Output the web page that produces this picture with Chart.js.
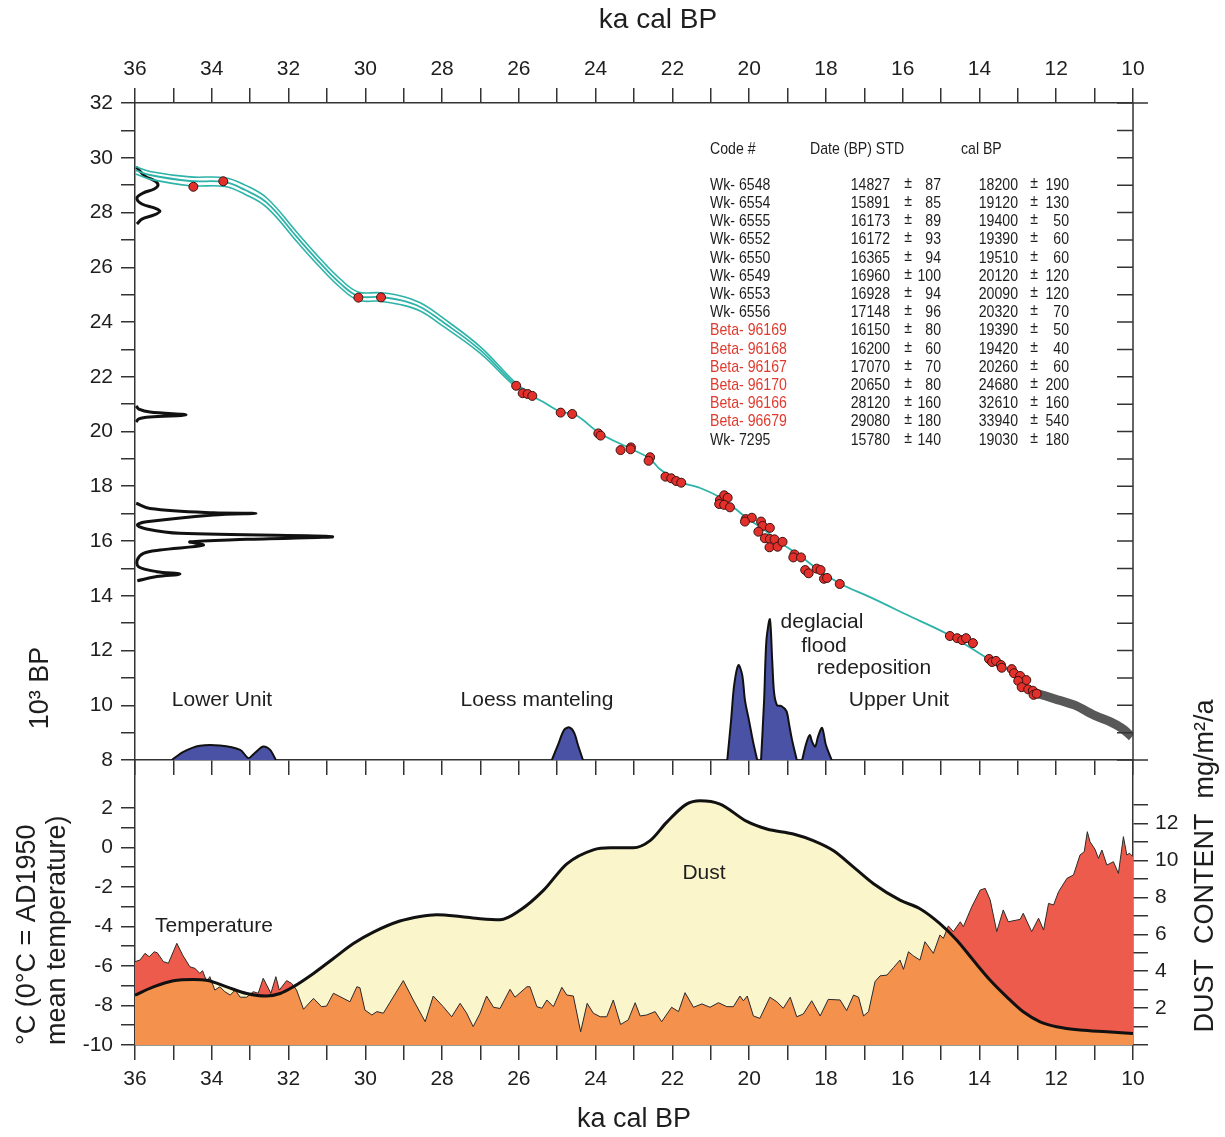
<!DOCTYPE html>
<html>
<head>
<meta charset="utf-8">
<script src="https://cdn.jsdelivr.net/npm/chart.js@4.4.0/dist/chart.umd.min.js"></script>
<style>
  body { margin: 0; background: #fff; }
  #wrap { position: relative; width: 1225px; height: 1137px; }
  canvas { position: absolute; left: 0; top: 0; }
</style>
</head>
<body>
<div id="wrap">
  <canvas id="lowerPanel" width="1225" height="1137"></canvas>
  <canvas id="upperPanel" width="1225" height="1137"></canvas>
</div>
<script>
const FONT = '"Liberation Sans", Arial, sans-serif';
const axisColor = '#333';
const textColor = '#1e1e1e';

// tick labels
const calTickLabels = [36, 34, 32, 30, 28, 26, 24, 22, 20, 18, 16, 14, 12, 10];
const c14TickLabels = [8, 10, 12, 14, 16, 18, 20, 22, 24, 26, 28, 30, 32];
const tempTickLabels = [-10, -8, -6, -4, -2, 0, 2];
const dustTickLabels = [2, 4, 6, 8, 10, 12];

// age model: cal ka BP -> 14C ka BP
const modelKa = [36.00, 35.61, 34.57, 33.66, 33.13, 32.56, 31.78, 31.18, 30.66, 30.19, 29.62, 29.10, 28.57, 28.05, 27.01, 26.10, 25.65, 25.32, 24.91, 24.54, 23.88, 23.10, 22.60, 22.32, 21.80, 21.30, 20.71, 20.05, 19.55, 19.30, 18.67, 18.20, 17.64, 16.85, 15.81, 14.77, 13.72, 13.20, 12.55];
const modelC14 = [29.55, 29.37, 29.15, 29.11, 28.82, 28.35, 27.10, 26.16, 25.42, 24.95, 24.91, 24.80, 24.55, 24.07, 22.98, 21.72, 21.30, 21.04, 20.72, 20.62, 19.93, 19.38, 19.02, 18.62, 18.15, 17.95, 17.55, 16.83, 16.35, 16.05, 15.45, 14.95, 14.45, 13.95, 13.25, 12.55, 11.65, 11.25, 10.50];
const bandKa = [36.00, 35.61, 34.57, 33.66, 33.13, 32.56, 31.78, 31.18, 30.66, 30.19, 29.62, 29.10, 28.57, 28.05, 27.01, 26.10, 25.65];
const bandUpper = [29.68, 29.50, 29.30, 29.27, 29.00, 28.52, 27.27, 26.32, 25.58, 25.10, 25.07, 24.96, 24.70, 24.22, 23.10, 21.80, 21.35];
const bandLower = [29.42, 29.22, 28.98, 28.95, 28.66, 28.18, 26.93, 26.00, 25.27, 24.80, 24.76, 24.64, 24.40, 23.92, 22.86, 21.65, 21.26];
const extrapKa = [12.55, 12.03, 11.46, 11.20, 10.94, 10.60, 10.29, 10.03];
const extrapC14 = [10.45, 10.23, 9.97, 9.77, 9.59, 9.40, 9.16, 8.85];

// dated samples
const datedKa = [34.48, 33.70, 30.18, 29.59, 26.07, 25.90, 25.77, 25.65, 24.91, 24.61, 23.93, 23.87, 23.35, 23.08, 23.09, 22.58, 22.62, 22.18, 22.03, 21.90, 21.77, 20.76, 20.65, 20.56, 20.78, 20.65, 20.50, 20.09, 19.93, 20.11, 19.69, 19.65, 19.76, 19.46, 19.59, 19.46, 19.34, 19.47, 19.26, 19.13, 18.82, 18.85, 18.65, 18.54, 18.45, 18.24, 18.14, 18.05, 17.97, 17.64, 14.77, 14.58, 14.45, 14.35, 14.17, 13.75, 13.67, 13.57, 13.44, 13.42, 13.16, 13.10, 12.94, 12.78, 12.99, 12.90, 12.73, 12.61, 12.59, 12.51];
const datedC14 = [28.94, 29.14, 24.89, 24.90, 21.67, 21.40, 21.37, 21.30, 20.69, 20.64, 19.93, 19.85, 19.32, 19.42, 19.35, 19.06, 18.93, 18.35, 18.29, 18.19, 18.13, 17.50, 17.67, 17.58, 17.35, 17.32, 17.23, 16.80, 16.85, 16.71, 16.71, 16.55, 16.34, 16.48, 16.10, 16.07, 16.06, 15.77, 15.79, 15.97, 15.51, 15.40, 15.40, 14.94, 14.82, 14.99, 14.94, 14.62, 14.65, 14.43, 12.53, 12.45, 12.38, 12.45, 12.27, 11.69, 11.58, 11.62, 11.47, 11.37, 11.32, 11.17, 11.07, 10.92, 10.89, 10.66, 10.58, 10.53, 10.38, 10.42];

// summed 14C probability along the left axis
const probAKa = [35.97, 35.74, 35.48, 35.40, 35.50, 35.79, 35.95, 35.82, 35.48, 35.35, 35.50, 35.82, 35.95];
const probAC14 = [29.66, 29.33, 29.15, 29.00, 28.86, 28.71, 28.53, 28.31, 28.16, 28.05, 27.91, 27.76, 27.58];
const probBKa = [35.97, 35.90, 35.61, 34.67, 35.61, 35.90, 35.97];
const probBC14 = [20.93, 20.82, 20.71, 20.61, 20.53, 20.46, 20.35];
const probCKa = [35.97, 35.61, 33.96, 32.85, 33.96, 35.70, 35.94, 35.70, 34.83, 30.87, 33.09, 34.57, 34.22, 35.35, 35.78, 35.94, 35.91, 35.43, 34.83, 35.43, 35.94];
const probCC14 = [17.38, 17.19, 17.03, 17.01, 16.95, 16.70, 16.58, 16.44, 16.28, 16.16, 16.06, 15.97, 15.85, 15.67, 15.55, 15.31, 15.06, 14.88, 14.79, 14.70, 14.55];

// deposition units (blue)
const lowerUnitKa = [35.04, 34.74, 34.31, 33.79, 33.26, 33.05, 32.92, 32.66, 32.48, 32.33];
const lowerUnitVal = [8.0, 8.30, 8.52, 8.53, 8.37, 8.07, 8.20, 8.49, 8.37, 8.0];
const loessKa = [25.14, 24.98, 24.82, 24.68, 24.56, 24.46, 24.33];
const loessVal = [8.0, 8.55, 9.10, 9.19, 9.00, 8.55, 8.0];
const floodAKa = [20.57, 20.47, 20.39, 20.28, 20.18, 20.11, 20.00, 19.90, 19.79];
const floodAVal = [8.0, 9.46, 10.74, 11.47, 11.10, 10.19, 9.41, 8.68, 8.0];
const floodBKa = [19.69, 19.61, 19.55, 19.46, 19.40, 19.35, 19.27, 19.17, 19.03, 18.96, 18.89, 18.76];
const floodBVal = [8.0, 10.19, 12.38, 13.14, 11.65, 10.45, 9.99, 9.98, 9.79, 9.31, 8.78, 8.0];
const floodCKa = [18.62, 18.51, 18.42, 18.36, 18.28, 18.20, 18.10, 18.00, 17.85];
const floodCVal = [8.0, 8.62, 8.91, 8.66, 8.49, 8.88, 9.17, 8.55, 8.0];

// temperature (deg C) and dust content (mg/m2/a)
const tempKa = [36.00, 35.87, 35.74, 35.63, 35.50, 35.42, 35.26, 35.13, 34.91, 34.76, 34.57, 34.44, 34.31, 34.24, 34.13, 34.05, 33.92, 33.79, 33.66, 33.52, 33.39, 33.26, 33.09, 32.92, 32.79, 32.66, 32.57, 32.46, 32.33, 32.24, 32.05, 31.92, 31.79, 31.61, 31.35, 31.14, 31.01, 30.83, 30.40, 30.22, 30.14, 30.01, 29.83, 29.70, 29.53, 29.01, 28.75, 28.44, 28.23, 27.97, 27.75, 27.53, 27.36, 27.19, 27.01, 26.84, 26.66, 26.49, 26.23, 26.10, 25.79, 25.71, 25.53, 25.40, 25.27, 25.10, 24.88, 24.75, 24.58, 24.39, 24.22, 24.06, 23.88, 23.71, 23.54, 23.35, 23.15, 22.97, 22.84, 22.67, 22.45, 22.28, 22.02, 21.84, 21.67, 21.45, 21.23, 21.02, 20.80, 20.58, 20.41, 20.24, 20.15, 20.05, 19.89, 19.72, 19.46, 19.28, 19.11, 18.93, 18.76, 18.59, 18.37, 18.15, 17.94, 17.63, 17.46, 17.28, 17.15, 17.02, 16.89, 16.72, 16.59, 16.41, 16.24, 16.07, 15.98, 15.85, 15.72, 15.55, 15.42, 15.20, 15.03, 14.94, 14.81, 14.68, 14.50, 14.42, 14.20, 13.98, 13.85, 13.72, 13.55, 13.38, 13.25, 12.94, 12.86, 12.64, 12.46, 12.33, 12.20, 12.07, 11.94, 11.72, 11.55, 11.38, 11.27, 11.19, 11.12, 10.99, 10.90, 10.81, 10.68, 10.51, 10.38, 10.25, 10.16, 10.09, 10.00];
const tempC = [-5.78, -5.70, -5.36, -5.53, -5.28, -5.33, -5.78, -5.86, -4.85, -5.44, -6.04, -6.12, -6.37, -6.24, -6.79, -6.54, -7.22, -7.05, -7.30, -7.47, -7.22, -7.58, -7.58, -7.30, -7.38, -6.62, -6.96, -7.38, -6.54, -7.22, -6.74, -6.88, -7.22, -8.19, -7.64, -8.06, -8.03, -7.38, -7.81, -7.05, -7.10, -8.23, -8.48, -8.31, -8.39, -6.74, -7.72, -8.82, -7.52, -8.06, -8.57, -7.89, -8.39, -9.07, -8.39, -7.52, -8.09, -8.15, -7.18, -7.58, -7.05, -7.05, -8.06, -8.14, -7.72, -8.06, -7.08, -7.47, -7.52, -9.33, -7.89, -8.39, -8.57, -8.57, -7.72, -8.96, -8.73, -7.86, -8.53, -8.48, -8.31, -8.82, -8.09, -8.31, -7.35, -8.09, -7.92, -8.09, -7.86, -8.06, -8.06, -7.52, -7.76, -7.52, -8.53, -8.65, -7.58, -7.81, -8.14, -7.58, -8.57, -8.43, -7.76, -8.53, -7.69, -7.72, -8.26, -7.47, -7.58, -8.53, -8.31, -6.79, -6.50, -6.46, -6.08, -5.70, -6.17, -5.28, -5.49, -5.70, -4.77, -5.36, -4.43, -4.60, -3.97, -4.26, -3.76, -4.01, -3.00, -2.15, -2.07, -2.66, -4.26, -3.16, -3.76, -3.64, -3.33, -4.26, -3.58, -4.18, -2.83, -2.91, -2.24, -1.56, -1.39, -0.38, -0.21, 0.80, 0.29, -0.09, -0.55, -0.13, -0.89, -0.72, -1.31, 0.55, -0.38, -0.29, -0.47];
const dustKa = [36.00, 35.52, 35.00, 34.48, 34.13, 33.61, 33.09, 32.57, 32.22, 31.88, 31.35, 30.83, 30.31, 29.79, 29.10, 28.57, 28.14, 27.53, 27.01, 26.49, 25.97, 25.36, 24.75, 24.06, 23.62, 23.02, 22.58, 22.15, 21.63, 21.28, 20.76, 20.06, 19.54, 18.85, 18.33, 17.81, 17.28, 16.76, 16.07, 15.55, 15.03, 14.59, 14.16, 13.72, 13.29, 12.86, 12.42, 11.99, 11.38, 10.68, 10.00];
const dustMg = [2.70, 3.15, 3.48, 3.55, 3.51, 3.15, 2.79, 2.65, 2.79, 3.15, 3.88, 4.69, 5.50, 6.12, 6.72, 6.97, 7.06, 6.97, 6.85, 6.79, 7.30, 8.38, 9.82, 10.58, 10.69, 10.69, 11.08, 12.07, 13.06, 13.24, 13.06, 12.12, 11.71, 11.44, 11.08, 10.54, 9.64, 8.74, 7.85, 7.39, 6.58, 5.68, 4.59, 3.51, 2.61, 1.80, 1.26, 0.99, 0.81, 0.72, 0.63];

// radiocarbon table
const sampleCodes = ['Wk- 6548', 'Wk- 6554', 'Wk- 6555', 'Wk- 6552', 'Wk- 6550', 'Wk- 6549', 'Wk- 6553', 'Wk- 6556', 'Beta- 96169', 'Beta- 96168', 'Beta- 96167', 'Beta- 96170', 'Beta- 96166', 'Beta- 96679', 'Wk- 7295'];
const sampleDates = [14827, 15891, 16173, 16172, 16365, 16960, 16928, 17148, 16150, 16200, 17070, 20650, 28120, 29080, 15780];
const sampleStd = [87, 85, 89, 93, 94, 100, 94, 96, 80, 60, 70, 80, 160, 180, 140];
const sampleCal = [18200, 19120, 19400, 19390, 19510, 20120, 20090, 20320, 19390, 19420, 20260, 24680, 32610, 33940, 19030];
const sampleCalStd = [190, 130, 50, 60, 60, 120, 120, 70, 50, 40, 60, 200, 160, 540, 180];

const pts = (xs, ys) => xs.map((x, i) => ({x: x, y: ys[i]}));

const tickFont = {family: FONT, size: 21};
const titleFont = {family: FONT, size: 27};

function kaAxis(position, showLabels) {
  return {
    type: 'linear', position: position, min: 10, max: 36, reverse: true,
    ticks: {
      display: showLabels, stepSize: 1, autoSkip: false, maxRotation: 0, maxTicksLimit: 100,
      font: tickFont, color: textColor, padding: position === 'top' ? 6 : 7,
      callback: v => calTickLabels.includes(v) ? String(v) : ''
    },
    grid: {drawOnChartArea: false, tickLength: 15, color: axisColor, lineWidth: 1.5},
    border: {color: axisColor, width: 1.5}
  };
}

const upperDecor = {
  id: 'upperDecor',
  afterDraw(chart) {
    const {ctx, chartArea: a, scales} = chart;
    const y = scales.y;
    ctx.save();
    // right frame, ticks pointing in
    ctx.strokeStyle = axisColor;
    ctx.lineWidth = 1.5;
    ctx.beginPath();
    ctx.moveTo(a.right, a.top); ctx.lineTo(a.right, a.bottom);
    y.ticks.forEach(t => {
      const py = y.getPixelForValue(t.value);
      ctx.moveTo(a.right - 16, py); ctx.lineTo(a.right, py);
    });
    ctx.moveTo(a.right, a.top); ctx.lineTo(a.right + 15, a.top);
    ctx.moveTo(a.right, a.bottom); ctx.lineTo(a.right + 15, a.bottom);
    ctx.stroke();

    ctx.fillStyle = textColor;
    ctx.textBaseline = 'middle';
    ctx.textAlign = 'center';
    ctx.font = '28px ' + FONT;
    ctx.fillText('ka cal BP', 658, 20);

    ctx.font = '21px ' + FONT;
    [['Lower Unit', 222, 700], ['Loess manteling', 537, 700], ['deglacial', 822, 622],
     ['flood', 824, 646], ['redeposition', 874, 668], ['Upper Unit', 899, 700]]
      .forEach(([t, x, yy]) => ctx.fillText(t, x, yy));

    ctx.save();
    ctx.translate(41, 688);
    ctx.rotate(-Math.PI / 2);
    ctx.font = '27px ' + FONT;
    ctx.fillText('10³ BP', 0, 0);
    ctx.restore();

    // table of dates, narrow type
    ctx.font = '17px ' + FONT;
    const put = (s, x, yy, align) => {
      ctx.textAlign = align;
      ctx.fillText(s, x, yy, ctx.measureText(s).width * 0.83);
    };
    put('Code #', 710, 149, 'left');
    put('Date (BP) STD', 810, 149, 'left');
    put('cal BP', 961, 149, 'left');
    sampleCodes.forEach((code, i) => {
      const yy = 185 + i * 18.21;
      ctx.fillStyle = code.startsWith('Beta') ? '#e03a2e' : textColor;
      put(code, 710, yy, 'left');
      ctx.fillStyle = textColor;
      put(String(sampleDates[i]), 890, yy, 'right');
      put('±', 908, yy - 2, 'center');
      put(String(sampleStd[i]), 941, yy, 'right');
      put(String(sampleCal[i]), 1018, yy, 'right');
      put('±', 1034, yy - 2, 'center');
      put(String(sampleCalStd[i]), 1069, yy, 'right');
    });
    ctx.restore();
  }
};

const lowerDecor = {
  id: 'lowerDecor',
  afterDraw(chart) {
    const {ctx} = chart;
    ctx.save();
    ctx.fillStyle = textColor;
    ctx.textAlign = 'center';
    ctx.textBaseline = 'middle';
    ctx.font = '21px ' + FONT;
    ctx.fillText('Temperature', 214, 926);
    ctx.fillText('Dust', 704, 873);
    ctx.translate(1206, 866);
    ctx.rotate(-Math.PI / 2);
    ctx.font = '27px ' + FONT;
    ctx.fillText('DUST  CONTENT  mg/m²/a', 0, 0);
    ctx.restore();
  }
};

const blue = '#4a52a6';
const teal = '#2db3a8';
const peak = (xs, ys) => ({
  data: pts(xs, ys), borderColor: '#111', borderWidth: 2, backgroundColor: blue,
  fill: 'start', tension: 0.3, pointRadius: 0
});
const prob = (xs, ys) => ({
  data: pts(xs, ys), borderColor: '#111', borderWidth: 3, fill: false, tension: 0.35, pointRadius: 0
});

new Chart(document.getElementById('upperPanel'), {
  type: 'line',
  data: {
    datasets: [
      {data: pts(datedKa, datedC14), showLine: false, pointRadius: 4.5,
       pointBackgroundColor: '#e3302b', pointBorderColor: '#3a1212', pointBorderWidth: 1},
      {data: pts(modelKa, modelC14), borderColor: teal, borderWidth: 1.8, tension: 0.4, pointRadius: 0},
      {data: pts(bandKa, bandUpper), borderColor: teal, borderWidth: 1.6, tension: 0.4, pointRadius: 0},
      {data: pts(bandKa, bandLower), borderColor: teal, borderWidth: 1.6, tension: 0.4, pointRadius: 0},
      {data: pts(extrapKa, extrapC14), borderColor: '#585858', borderWidth: 9, tension: 0.3, pointRadius: 0},
      prob(probAKa, probAC14),
      prob(probBKa, probBC14),
      prob(probCKa, probCC14),
      peak(lowerUnitKa, lowerUnitVal),
      peak(loessKa, loessVal),
      peak(floodAKa, floodAVal),
      peak(floodBKa, floodBVal),
      peak(floodCKa, floodCVal)
    ]
  },
  options: {
    responsive: false,
    animation: false,
    events: [],
    layout: {padding: {right: 92, bottom: 347}},
    plugins: {legend: {display: false}, tooltip: {enabled: false}},
    scales: {
      x: Object.assign(kaAxis('bottom', false), {afterFit: s => { s.height = 30; }}),
      xTop: Object.assign(kaAxis('top', true), {afterFit: s => { s.height = 103; }}),
      y: {
        type: 'linear', position: 'left', min: 8, max: 32,
        ticks: {stepSize: 1, autoSkip: false, font: tickFont, color: textColor, padding: 8,
                callback: v => c14TickLabels.includes(v) ? String(v) : ''},
        grid: {drawOnChartArea: false, tickLength: 14, color: axisColor, lineWidth: 1.5},
        border: {color: axisColor, width: 1.5},
        afterFit: s => { s.width = 135; }
      }
    }
  },
  plugins: [upperDecor]
});

new Chart(document.getElementById('lowerPanel'), {
  type: 'line',
  data: {
    datasets: [
      {data: pts(dustKa, dustMg), yAxisID: 'yD', borderColor: '#111', borderWidth: 3,
       cubicInterpolationMode: 'monotone', pointRadius: 0,
       fill: {target: 1, above: '#fbf5cb', below: '#ec5b4c'}},
      {data: pts(tempKa, tempC), yAxisID: 'yT', borderColor: '#2a2a2a', borderWidth: 1,
       tension: 0, pointRadius: 0, fill: 'start', backgroundColor: '#f4914c'}
    ]
  },
  options: {
    responsive: false,
    animation: false,
    events: [],
    layout: {padding: {top: 760}},
    plugins: {legend: {display: false}, tooltip: {enabled: false}, filler: {drawTime: 'beforeDatasetsDraw'}},
    scales: {
      x: Object.assign(kaAxis('bottom', true), {
        title: {display: true, text: 'ka cal BP', font: titleFont, color: textColor, padding: {top: 0, bottom: 1}},
        afterFit: s => { s.height = 92; }
      }),
      yT: {
        type: 'linear', position: 'left', min: -10, max: 4.43,
        afterBuildTicks: s => { s.ticks = s.ticks.filter(t => t.value <= 2); },
        ticks: {stepSize: 1, autoSkip: false, font: tickFont, color: textColor, padding: 8,
                callback: v => tempTickLabels.includes(v) ? String(v) : ''},
        grid: {drawOnChartArea: false, tickLength: 14, color: axisColor, lineWidth: 1.5},
        border: {color: axisColor, width: 1.5},
        title: {display: true, align: 'start', text: ['°C (0°C = AD1950', 'mean temperature)'],
                font: {family: FONT, size: 27, lineHeight: 1.12}, color: textColor, padding: {top: 12}},
        afterFit: s => { s.width = 135; }
      },
      yD: {
        type: 'linear', position: 'right', min: 0, max: 15.45,
        afterBuildTicks: s => { s.ticks = s.ticks.filter(t => t.value <= 13); },
        ticks: {stepSize: 1, autoSkip: false, font: tickFont, color: textColor, padding: 7,
                callback: v => dustTickLabels.includes(v) ? String(v) : ''},
        grid: {drawOnChartArea: false, tickLength: 15, color: axisColor, lineWidth: 1.5},
        border: {color: axisColor, width: 1.5},
        afterFit: s => { s.width = 92; }
      }
    }
  },
  plugins: [lowerDecor]
});
</script>
</body>
</html>
